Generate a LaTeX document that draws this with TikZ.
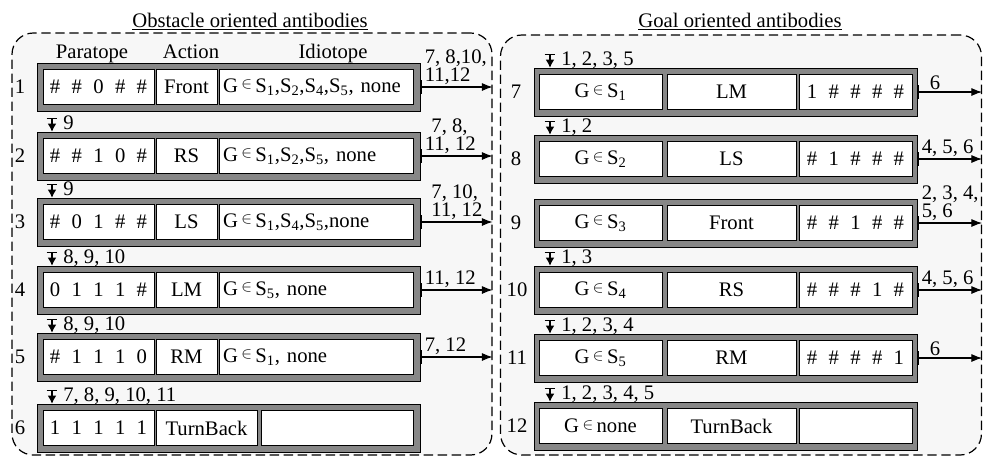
\documentclass[tikz,border=0pt]{standalone}
\usepackage{fontspec}
\setmainfont{Liberation Serif}
\usetikzlibrary{arrows.meta}
\newcommand{\elem}{\,\raisebox{2.5pt}{\fontsize{13}{13}\selectfont$\in$}\,}
\newcommand{\Sn}[1]{S\textsubscript{#1}}
\newcommand{\bitstr}[5]{#1\hspace{0.55em}#2\hspace{0.55em}#3\hspace{0.55em}#4\hspace{0.55em}#5}
\begin{document}
\begin{tikzpicture}[x=0.75pt,y=-0.75pt,font=\fontsize{15.5}{14}\selectfont]
        \tikzstyle{group}=[draw=black,dash pattern=on 7pt off 3.5pt,line width=0.9pt,rounded corners=16pt,fill=black!3,inner sep=0pt]
        \tikzstyle{row}=[draw=black,fill=black!47,minimum width=287.25pt,minimum height=36pt,inner sep=0pt]
        \tikzstyle{cell}=[draw=black,fill=white,minimum height=26.25pt,inner sep=0pt]
        \tikzstyle{idio}=[cell,text width=139.5pt,align=left,inner xsep=3pt]
        \tikzstyle{inarrow}=[{Bar[width=8pt]}-{Latex[length=6pt,width=6.5pt]},line width=0.9pt]
        \tikzstyle{outarrow}=[{Bar[width=11pt,line width=1.5pt]}-{Latex[length=8pt,width=6pt]},line width=0.8pt]
        \tikzstyle{inlabel}=[anchor=base west,inner sep=0pt,xshift=8pt,yshift=1.5pt]
        \tikzstyle{outlabel}=[anchor=south west,align=left,inner sep=1pt,xshift=2pt]

        \useasboundingbox (0,0) rectangle (983,458);

        % obstacle oriented antibodies
        \node [group, minimum width=360pt, minimum height=316.5pt] (obst) at (252,244) {};
        \node [anchor=base] (tobst) at (250,27) {\underline{Obstacle oriented antibodies}};
        \node [anchor=base] (hpara) at (92,58) {Paratope};
        \node [anchor=base] (hact) at (191,58) {Action};
        \node [anchor=base] (hidio) at (333,58) {Idiotope};

        \node [row] (o1) at (228.5,87) {};
        \node [cell, minimum width=83.25pt] (p1) at (98.5,87) {\bitstr{\#}{\#}{0}{\#}{\#}};
        \node [cell, minimum width=45.75pt] (a1) at (186.5,87) {Front};
        \node [idio] (i1) at (316,87) {G\elem\Sn{1},\Sn{2},\Sn{4},\Sn{5}, none};
        \node (n1) at (20,87) {1};

        \node [row] (o2) at (228.5,156) {};
        \node [cell, minimum width=83.25pt] (p2) at (98.5,156) {\bitstr{\#}{\#}{1}{0}{\#}};
        \node [cell, minimum width=45.75pt] (a2) at (186.5,156) {RS};
        \node [idio] (i2) at (316,156) {G\elem\Sn{1},\Sn{2},\Sn{5}, none};
        \node (n2) at (20,156) {2};

        \node [row] (o3) at (228.5,222) {};
        \node [cell, minimum width=83.25pt] (p3) at (98.5,222) {\bitstr{\#}{0}{1}{\#}{\#}};
        \node [cell, minimum width=45.75pt] (a3) at (186.5,222) {LS};
        \node [idio] (i3) at (316,222) {G\elem\Sn{1},\Sn{4},\Sn{5},none};
        \node (n3) at (20,222) {3};

        \node [row] (o4) at (228.5,290) {};
        \node [cell, minimum width=83.25pt] (p4) at (98.5,290) {\bitstr{0}{1}{1}{1}{\#}};
        \node [cell, minimum width=45.75pt] (a4) at (186.5,290) {LM};
        \node [idio] (i4) at (316,290) {G\elem\Sn{5}, none};
        \node (n4) at (20,290) {4};

        \node [row] (o5) at (228.5,357) {};
        \node [cell, minimum width=83.25pt] (p5) at (98.5,357) {\bitstr{\#}{1}{1}{1}{0}};
        \node [cell, minimum width=45.75pt] (a5) at (186.5,357) {RM};
        \node [idio] (i5) at (316,357) {G\elem\Sn{1}, none};
        \node (n5) at (20,357) {5};

        \node [row] (o6) at (228.5,428) {};
        \node [cell, minimum width=83.25pt] (p6) at (98.5,428) {\bitstr{1}{1}{1}{1}{1}};
        \node [cell, minimum width=75.75pt] (a6) at (206.5,428) {TurnBack};
        \node [cell, minimum width=114pt] (i6) at (337,428) {};
        \node (n6) at (20,428) {6};

        \coordinate (d2) at (52,118);
        \coordinate (d3) at (52,184);
        \coordinate (d4) at (52,252);
        \coordinate (d5) at (52,319);
        \coordinate (d6) at (52,390);
        \draw [inarrow] (d2) -- (d2 |- o2.north) node [inlabel] {9};
        \draw [inarrow] (d3) -- (d3 |- o3.north) node [inlabel] {9};
        \draw [inarrow] (d4) -- (d4 |- o4.north) node [inlabel] {8, 9, 10};
        \draw [inarrow] (d5) -- (d5 |- o5.north) node [inlabel] {8, 9, 10};
        \draw [inarrow] (d6) -- (d6 |- o6.north) node [inlabel] {7, 8, 9, 10, 11};

        \draw [outarrow] (o1.east) -- (o1.east -| obst.east) node [outlabel, pos=0] {7, 8,10,\\11,12};
        \draw [outarrow] (o2.east) -- (o2.east -| obst.east) node [outlabel, pos=0] {\hspace{5pt}7, 8,\\11, 12};
        \draw [outarrow] (o3.east) -- (o3.east -| obst.east) node [outlabel, pos=0] {\hspace{5pt}7, 10,\\\hspace{5pt}11, 12};
        \draw [outarrow] (o4.east) -- (o4.east -| obst.east) node [outlabel, pos=0] {11, 12};
        \draw [outarrow] (o5.east) -- (o5.east -| obst.east) node [outlabel, pos=0] {7, 12};

        % goal oriented antibodies
        \node [group, minimum width=360.75pt, minimum height=315pt] (goal) at (741,245) {};
        \node [anchor=base] (tgoal) at (740,27) {\underline{Goal oriented antibodies}};

        \node [row] (g7) at (725.5,92) {};
        \node [cell, minimum width=92.25pt] (c7) at (600.5,92) {G\elem\Sn{1}};
        \node [cell, minimum width=96.75pt] (m7) at (731.5,92) {LM};
        \node [cell, minimum width=84.75pt] (q7) at (855.5,92) {\bitstr{1}{\#}{\#}{\#}{\#}};
        \node (n7) at (516,92) {7};

        \node [row] (g8) at (725.5,159) {};
        \node [cell, minimum width=92.25pt] (c8) at (600.5,159) {G\elem\Sn{2}};
        \node [cell, minimum width=96.75pt] (m8) at (731.5,159) {LS};
        \node [cell, minimum width=84.75pt] (q8) at (855.5,159) {\bitstr{\#}{1}{\#}{\#}{\#}};
        \node (n8) at (516,159) {8};

        \node [row] (g9) at (725.5,223) {};
        \node [cell, minimum width=92.25pt] (c9) at (600.5,223) {G\elem\Sn{3}};
        \node [cell, minimum width=96.75pt] (m9) at (731.5,223) {Front};
        \node [cell, minimum width=84.75pt] (q9) at (855.5,223) {\bitstr{\#}{\#}{1}{\#}{\#}};
        \node (n9) at (516,223) {9};

        \node [row] (g10) at (725.5,290) {};
        \node [cell, minimum width=92.25pt] (c10) at (600.5,290) {G\elem\Sn{4}};
        \node [cell, minimum width=96.75pt] (m10) at (731.5,290) {RS};
        \node [cell, minimum width=84.75pt] (q10) at (855.5,290) {\bitstr{\#}{\#}{\#}{1}{\#}};
        \node (n10) at (517,290) {10};

        \node [row] (g11) at (725.5,358) {};
        \node [cell, minimum width=92.25pt] (c11) at (600.5,358) {G\elem\Sn{5}};
        \node [cell, minimum width=96.75pt] (m11) at (731.5,358) {RM};
        \node [cell, minimum width=84.75pt] (q11) at (855.5,358) {\bitstr{\#}{\#}{\#}{\#}{1}};
        \node (n11) at (517,358) {11};

        \node [row] (g12) at (725.5,426) {};
        \node [cell, minimum width=92.25pt] (c12) at (600.5,426) {G\elem none};
        \node [cell, minimum width=96.75pt] (m12) at (731.5,426) {TurnBack};
        \node [cell, minimum width=84.75pt] (q12) at (855.5,426) {};
        \node (n12) at (517,426) {12};

        \coordinate (d7) at (550,54);
        \coordinate (d8) at (550,121);
        \coordinate (d10) at (550,252);
        \coordinate (d11) at (550,320);
        \coordinate (d12) at (550,388);
        \draw [inarrow] (d7) -- (d7 |- g7.north) node [inlabel] {1, 2, 3, 5};
        \draw [inarrow] (d8) -- (d8 |- g8.north) node [inlabel] {1, 2};
        \draw [inarrow] (d10) -- (d10 |- g10.north) node [inlabel] {1, 3};
        \draw [inarrow] (d11) -- (d11 |- g11.north) node [inlabel] {1, 2, 3, 4};
        \draw [inarrow] (d12) -- (d12 |- g12.north) node [inlabel] {1, 2, 3, 4, 5};

        \draw [outarrow] (g7.east) -- (g7.east -| goal.east) node [outlabel, pos=0] {\hspace{6pt}6};
        \draw [outarrow] (g8.east) -- (g8.east -| goal.east) node [outlabel, pos=0] {4, 5, 6};
        \draw [outarrow] (g9.east) -- (g9.east -| goal.east) node [outlabel, pos=0] {2, 3, 4,\\5, 6};
        \draw [outarrow] (g10.east) -- (g10.east -| goal.east) node [outlabel, pos=0] {4, 5, 6};
        \draw [outarrow] (g11.east) -- (g11.east -| goal.east) node [outlabel, pos=0] {\hspace{6pt}6};
\end{tikzpicture}
\end{document}
